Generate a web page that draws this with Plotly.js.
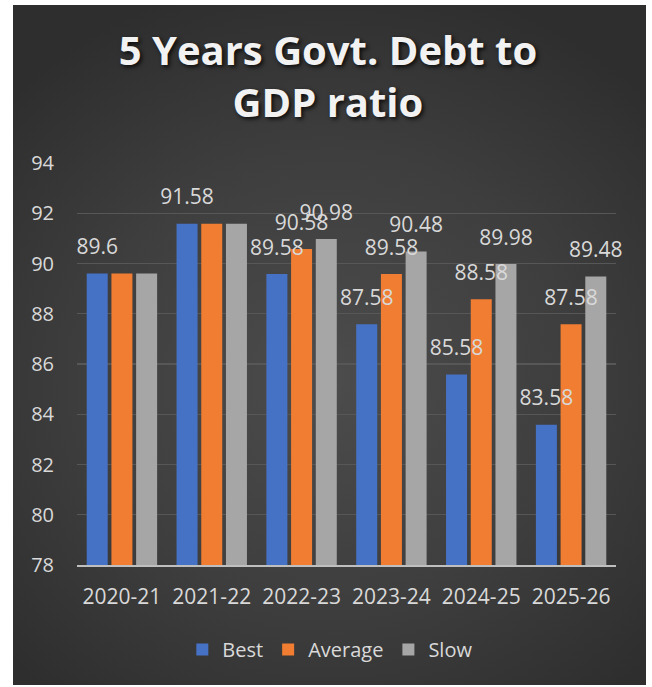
<!DOCTYPE html>
<html>
<head>
<meta charset="utf-8">
<script src="https://cdn.plot.ly/plotly-3.0.1.min.js"></script>
<style>
  html, body { margin: 0; padding: 0; background: #ffffff; width: 652px; height: 687px; overflow: hidden; }
  #bg { position: absolute; left: 13px; top: 5px; width: 633px; height: 680px;
        background: radial-gradient(ellipse 70% 60% at 50% 55%, #4c4c4c 0%, #3e3e3e 55%, #2e2e2e 100%); }
  #chart { position: absolute; left: 0; top: 0; width: 652px; height: 687px; }
</style>
</head>
<body>
<div id="bg"></div>
<div id="chart"></div>
<script>
const categories = ["2020-21", "2021-22", "2022-23", "2023-24", "2024-25", "2025-26"];
const bestValues = [89.6, 91.58, 89.58, 87.58, 85.58, 83.58];
const averageValues = [89.6, 91.58, 90.58, 89.58, 88.58, 87.58];
const slowValues = [89.6, 91.58, 90.98, 90.48, 89.98, 89.48];
const bestLabels = ["89.6", "91.58", "89.58", "87.58", "85.58", "83.58"];
const averageLabels = ["", "", "90.58", "89.58", "88.58", "87.58"];
const slowLabels = ["", "", "90.98", "90.48", "89.98", "89.48"];
const yTicks = [78, 80, 82, 84, 86, 88, 90, 92, 94];

const fontFam = "Open Sans, Noto Sans, sans-serif";
const textCol = "#d9d9d9";

function bar(name, vals, color) {
  return {
    type: "bar", name: name, x: categories, y: vals,
    marker: { color: color },
    hoverinfo: "x+y+name"
  };
}
function lbl(name, vals, labels) {
  return {
    type: "scatter", mode: "markers+text", name: name + " labels",
    x: categories, y: vals, text: labels,
    textposition: "top center", cliponaxis: false,
    textfont: { family: fontFam, size: 21, color: textCol },
    marker: { size: 21, color: "rgba(0,0,0,0)" },
    showlegend: false, hoverinfo: "skip"
  };
}

const data = [
  bar("Best", bestValues, "#4672c6"),
  bar("Average", averageValues, "#f07d31"),
  bar("Slow", slowValues, "#a6a6a6"),
  lbl("Best", bestValues, bestLabels),
  lbl("Average", averageValues, averageLabels),
  lbl("Slow", slowValues, slowLabels)
];

const layout = {
  width: 652, height: 687,
  paper_bgcolor: "rgba(0,0,0,0)",
  plot_bgcolor: "rgba(0,0,0,0)",
  margin: { l: 77, r: 36, t: 163, b: 122 },
  barmode: "group",
  bargap: 0.175,
  bargroupgap: 0.15,
  scattermode: "group",
  scattergap: 0.175,
  title: {
    text: "5 Years Govt. Debt to<br>GDP ratio",
    font: { family: fontFam, size: 40, color: "#f2f2f2", weight: 700, shadow: "2px 2px 4px rgba(0,0,0,0.8)" },
    x: 0.503, xanchor: "center",
    y: 0.905, yanchor: "top", yref: "container"
  },
  font: { family: fontFam, color: textCol },
  xaxis: {
    type: "category",
    showline: true, linecolor: "#bfbfbf", linewidth: 2,
    showgrid: false, zeroline: false,
    ticks: "", ticklabelstandoff: 12,
    tickfont: { family: fontFam, size: 21, color: textCol }
  },
  yaxis: {
    range: [78, 94],
    tickvals: yTicks,
    ticktext: yTicks.map(String),
    showgrid: true, gridcolor: "#575757", gridwidth: 1.2,
    zeroline: false, showline: false,
    ticks: "", ticklabelstandoff: 22,
    tickfont: { family: fontFam, size: 20, color: textCol }
  },
  legend: {
    orientation: "h",
    x: 0.47, xanchor: "center",
    y: -0.21, yanchor: "middle",
    font: { family: fontFam, size: 20, color: textCol },
    bgcolor: "rgba(0,0,0,0)"
  },
  showlegend: true
};

Plotly.newPlot("chart", data, layout, { displayModeBar: false, staticPlot: true });
</script>
</body>
</html>
